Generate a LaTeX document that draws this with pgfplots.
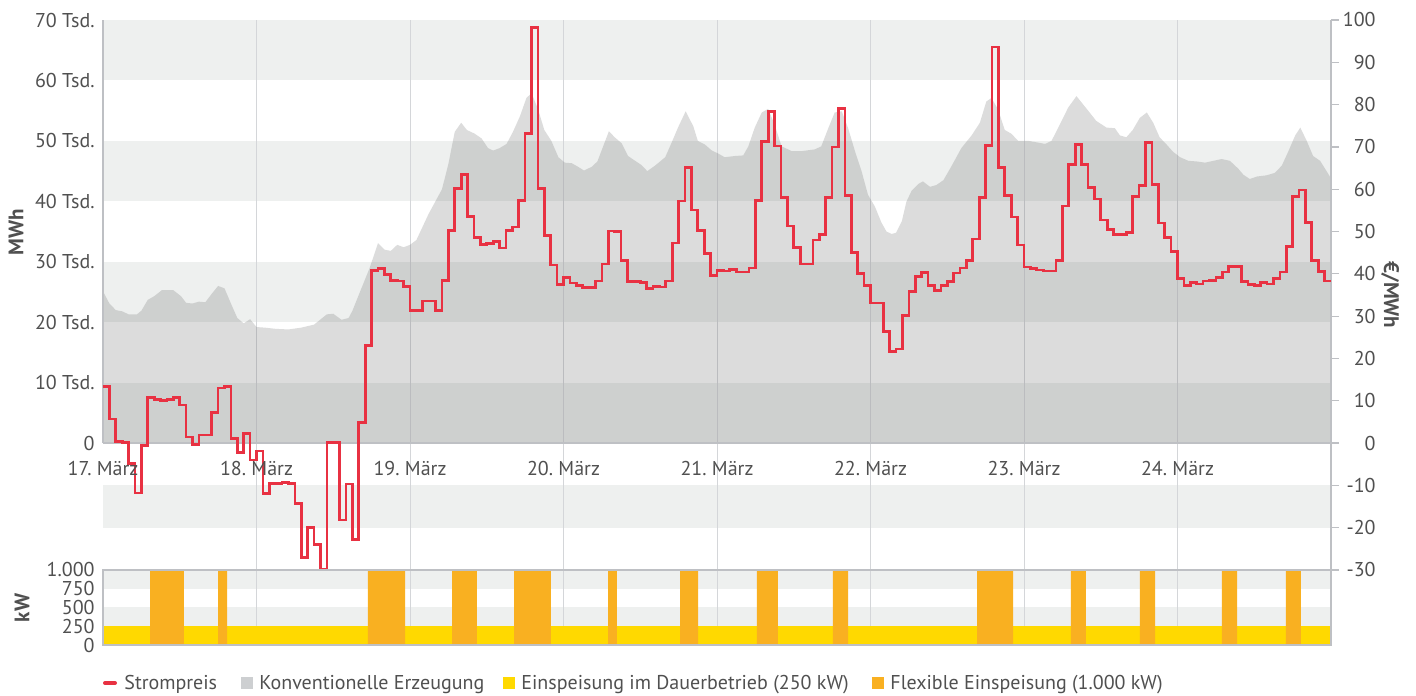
\documentclass[border=0pt]{standalone}
\usepackage{fontspec}
\setmainfont{PT Sans}
\usepackage{pgfplots}
\pgfplotsset{compat=1.18}
\usepackage{pgfplotstable}

\definecolor{band}{RGB}{238,240,239}
\definecolor{areagray}{RGB}{106,107,107}
\definecolor{legendgray}{RGB}{205,207,209}
\definecolor{pricered}{RGB}{232,49,66}
\definecolor{dauer}{RGB}{255,217,0}
\definecolor{flex}{RGB}{249,176,33}
\definecolor{gridc}{RGB}{212,214,217}
\definecolor{framec}{RGB}{190,192,196}
\definecolor{txt}{RGB}{80,80,80}

\pgfplotstableread{
h p
0 13.4
1 5.7
2 0.3
3 0.2
4 -4.8
5 -11.8
6 -0.6
7 10.8
8 10.3
9 10.1
10 10.3
11 10.8
12 9.0
13 1.4
14 -0.3
15 1.9
16 1.9
17 7.2
18 13.0
19 13.3
20 1.1
21 -2.3
22 2.3
23 -4.0
24 -1.9
25 -12.0
26 -9.6
27 -9.5
28 -9.3
29 -9.6
30 -14.2
31 -27.0
32 -20.0
33 -24.0
34 -29.8
35 0.2
36 0.2
37 -18.2
38 -9.7
39 -22.8
40 4.9
41 23.1
42 40.8
43 41.3
44 39.9
45 38.4
46 38.3
47 37.0
48 31.4
49 31.4
50 33.6
51 33.6
52 31.4
53 38.4
54 50.2
55 60.2
56 63.4
57 53.5
58 48.6
59 46.9
60 47.2
61 47.7
62 46.1
63 50.2
64 51.1
65 57.4
66 73.2
67 98.3
68 60.2
69 49.0
70 42.1
71 37.4
72 39.1
73 37.8
74 37.2
75 36.8
76 36.8
77 38.3
78 42.3
79 50.1
80 50.0
81 43.1
82 38.2
83 38.2
84 38.0
85 36.6
86 37.0
87 36.9
88 38.3
89 47.3
90 57.2
91 65.1
92 55.1
93 50.3
94 44.8
95 39.6
96 40.8
97 40.7
98 41.0
99 40.4
100 40.4
101 41.4
102 57.3
103 71.3
104 78.4
105 70.2
106 58.1
107 51.3
108 46.3
109 42.3
110 42.3
111 48.0
112 49.3
113 58.1
114 70.0
115 79.0
116 58.5
117 45.1
118 40.0
119 37.2
120 33.1
121 33.1
122 26.4
123 21.7
124 22.2
125 30.2
126 35.9
127 39.3
128 40.3
129 37.2
130 36.1
131 37.2
132 38.2
133 40.2
134 41.4
135 43.1
136 48.2
137 58.1
138 70.3
139 93.6
140 65.1
141 58.5
142 53.4
143 46.8
144 41.6
145 41.3
146 40.9
147 40.7
148 40.7
149 43.1
150 56.0
151 65.8
152 70.6
153 65.8
154 60.4
155 57.7
156 52.7
157 50.5
158 49.3
159 49.3
160 49.7
161 58.2
162 60.9
163 71.0
164 61.1
165 52.0
166 48.6
167 45.2
168 38.9
169 37.2
170 37.9
171 37.6
172 38.3
173 38.5
174 39.1
175 40.4
176 41.7
177 41.7
178 38.2
179 37.4
180 37.2
181 37.9
182 37.6
183 38.9
184 40.4
185 46.5
186 58.2
187 59.8
188 52.2
189 43.1
190 40.6
191 38.3
192 38.3
}\price

\pgfplotstableread{
h mwh
0 25100
1 23100
2 22000
3 21800
4 21300
5.3 21300
6 21900
7 23700
8 24300
9.2 25300
11 25300
12.2 24300
13 23200
14 23100
15 23400
16 23300
17 24700
18 26000
19 25600
20 23100
21 20700
22 19800
23 20500
24 19200
25.3 19100
27 18900
29 18800
31 19100
33 19600
35 21300
36 21400
37.3 20400
38.4 20700
39 21900
40.4 25600
41.7 29000
43 33100
44 32000
45 31800
46 32800
47 32400
48 32800
49 33600
50.9 37900
53 42000
54 46200
55 51500
56 53000
56.9 51800
58.1 51200
59.2 50400
60.2 48800
61 48400
62 48800
63.1 49500
64.1 51500
65.2 54100
66.2 57100
67 57900
68 55300
69 51800
70.1 50000
71.2 47300
72.2 46400
73.3 46300
74.3 45700
75.2 45100
76.4 45700
77.3 46600
78.2 49100
79.1 51600
80 50600
81.1 49600
82.1 47500
83.2 46700
84.2 46000
85.1 45000
86.3 45900
87.9 47300
88.9 49700
89.9 52200
91.1 54900
92.3 52400
93 50000
94.1 49400
95.2 48400
96.2 47900
97.2 47300
98.8 47500
100.1 47600
100.9 49100
101.9 52200
103 54700
104 55300
105 52700
106.1 49100
107.7 48300
109.2 48300
111.3 48600
112.3 49100
113.4 52100
114.4 54700
115.5 54900
116.5 52100
117.6 48200
118.6 45000
119.6 41100
120.7 39100
121.7 36500
122.5 35000
123.3 34600
124 34800
124.9 36700
125.6 39900
126.4 41700
127.5 42900
128.2 43300
129.3 42400
130.3 42700
131.4 43500
132.7 45900
134.2 48800
135.8 50900
137.1 53000
138.1 56500
138.9 57100
139.9 55300
141 51800
142 51200
143.1 50000
144.7 50000
146.3 49700
147.3 49500
148.3 50000
149.6 52700
150.9 55500
152.2 57400
153.8 55300
155.3 53300
156.9 52200
158.2 52100
159 50900
160 50600
161 51800
162.1 53800
163.2 54700
164.2 53000
165.2 50600
166.2 49500
167.3 48200
168.4 47300
169.7 46700
171 46600
172.3 46400
173.6 46700
174.9 47000
176.2 46700
177.5 45400
178.3 44400
179.3 43700
180.4 44100
181.9 44300
183.2 44700
184.3 45900
185.3 48200
186.4 50900
187.2 52200
188.2 50000
189.2 47500
190.3 46700
191.3 45000
192 43800
}\konv

\pgfplotstableread{
h kw
0 0
7.35 1000
12.66 0
17.98 1000
19.39 0
41.43 1000
47.22 0
54.57 1000
58.47 0
64.26 1000
70.04 0
78.96 1000
80.36 0
90.22 1000
93.03 0
102.25 1000
105.53 0
114.13 1000
116.48 0
136.65 1000
142.28 0
151.34 1000
153.69 0
162.13 1000
164.48 0
174.95 1000
177.30 0
184.96 1000
187.30 0
192 0
}\flexdata

\begin{document}
\begin{tikzpicture}[font=\fontsize{10}{12}\selectfont]
\useasboundingbox (0,0) rectangle (708pt,347.5pt);

% ---------- top panel, left axis (MWh) ----------
\begin{axis}[
  scale only axis, width=614pt, height=275pt,
  at={(51.5pt,62.5pt)}, anchor=south west,
  xmin=0, xmax=192, ymin=-21000, ymax=70000,
  axis line style={draw=none},
  xtick=\empty,
  scaled y ticks=false,
  ytick={0,10000,20000,30000,40000,50000,60000,70000},
  yticklabels={0,10 Tsd.,20 Tsd.,30 Tsd.,40 Tsd.,50 Tsd.,60 Tsd.,70 Tsd.},
  major tick length=0pt,
  yticklabel style={inner xsep=0pt, xshift=-4pt, text=txt},
  clip mode=individual,
]
\fill[band] (axis cs:0,0) rectangle (axis cs:192,10000);
\fill[band] (axis cs:0,20000) rectangle (axis cs:192,30000);
\fill[band] (axis cs:0,40000) rectangle (axis cs:192,50000);
\fill[band] (axis cs:0,60000) rectangle (axis cs:192,70000);
\fill[band] (axis cs:0,-7000) rectangle (axis cs:192,-14000);
\pgfplotsinvokeforeach{24,48,72,96,120,144,168}{
  \draw[gridc, line width=0.5pt] (axis cs:#1,-21000) -- (axis cs:#1,70000);
}
\addplot[fill=areagray, fill opacity=0.235, draw=none] table[x=h,y=mwh]{\konv} \closedcycle;
\draw[framec, line width=0.9pt] (axis cs:0,0) -- (axis cs:192,0);
\draw[framec, line width=0.6pt] (axis cs:0,0) -- (axis cs:0,70000);
\end{axis}

% ---------- top panel, right axis (EUR/MWh) ----------
\begin{axis}[
  scale only axis, width=614pt, height=275pt,
  at={(51.5pt,62.5pt)}, anchor=south west,
  xmin=0, xmax=192, ymin=-30, ymax=100,
  axis x line=none, axis y line*=right,
  axis line style={framec, line width=0.6pt},
  ytick={-30,-20,-10,0,10,20,30,40,50,60,70,80,90,100},
  tick align=outside, major tick length=4pt,
  tick style={framec, line width=0.6pt},
  yticklabel style={anchor=east, inner sep=0pt, xshift=18.5pt, text=txt},
  /pgf/number format/assume math mode=true,
  clip mode=individual,
]
\addplot[const plot, pricered, line width=1.35pt] table[x=h,y=p]{\price};
\node[text=txt] at (axis cs:0,-5.9) {17.~März};
\node[text=txt] at (axis cs:24,-5.9) {18.~März};
\node[text=txt] at (axis cs:48,-5.9) {19.~März};
\node[text=txt] at (axis cs:72,-5.9) {20.~März};
\node[text=txt] at (axis cs:96,-5.9) {21.~März};
\node[text=txt] at (axis cs:120,-5.9) {22.~März};
\node[text=txt] at (axis cs:144,-5.9) {23.~März};
\node[text=txt] at (axis cs:168,-5.9) {24.~März};
\end{axis}

% ---------- bottom panel (kW) ----------
\begin{axis}[
  scale only axis, width=614pt, height=37.5pt,
  at={(51.5pt,25pt)}, anchor=south west,
  xmin=0, xmax=192, ymin=0, ymax=1000,
  xtick=\empty,
  ytick={0,250,500,750,1000},
  yticklabels={0,250,500,750,1.000},
  major tick length=0pt,
  axis line style={framec, line width=0.7pt},
  yticklabel style={inner xsep=0pt, xshift=-4pt, text=txt},
  axis on top,
  clip mode=individual,
]
\fill[band] (axis cs:0,750) rectangle (axis cs:192,1000);
\fill[band] (axis cs:0,250) rectangle (axis cs:192,500);
\pgfplotsinvokeforeach{24,48,72,96,120,144,168}{
  \draw[gridc, line width=0.5pt] (axis cs:#1,0) -- (axis cs:#1,1000);
}
\addplot[fill=dauer, draw=none] coordinates {(0,250) (192,250)} \closedcycle;
\addplot[const plot, fill=flex, draw=none] table[x=h,y=kw]{\flexdata} \closedcycle;
\end{axis}

% ---------- axis titles ----------
\path (8pt,231.5pt) node[rotate=90, text=txt, font=\bfseries\fontsize{10.5}{12}\selectfont] {MWh};
\path (695pt,200pt) node[rotate=-90, text=txt, font=\bfseries\fontsize{10.5}{12}\selectfont] {€/MWh};
\path (11pt,43.5pt) node[rotate=90, text=txt, font=\bfseries\fontsize{10.5}{12}\selectfont] {kW};

% ---------- legend ----------
\draw[pricered, line width=2pt, line cap=round] (52.5pt,6pt) -- (57.5pt,6pt);
\node[anchor=base west, inner sep=0pt, text=txt] at (62pt,3pt) {Strompreis};
\fill[legendgray] (120.5pt,3pt) rectangle (126.5pt,9pt);
\node[anchor=base west, inner sep=0pt, text=txt] at (129.5pt,3pt) {Konventionelle Erzeugung};
\fill[dauer] (251.5pt,3pt) rectangle (257.5pt,9pt);
\node[anchor=base west, inner sep=0pt, text=txt] at (260.5pt,3pt) {Einspeisung im Dauerbetrieb (250 kW)};
\fill[flex] (436pt,3pt) rectangle (442pt,9pt);
\node[anchor=base west, inner sep=0pt, text=txt] at (445pt,3pt) {Flexible Einspeisung (1.000 kW)};
\end{tikzpicture}
\end{document}
